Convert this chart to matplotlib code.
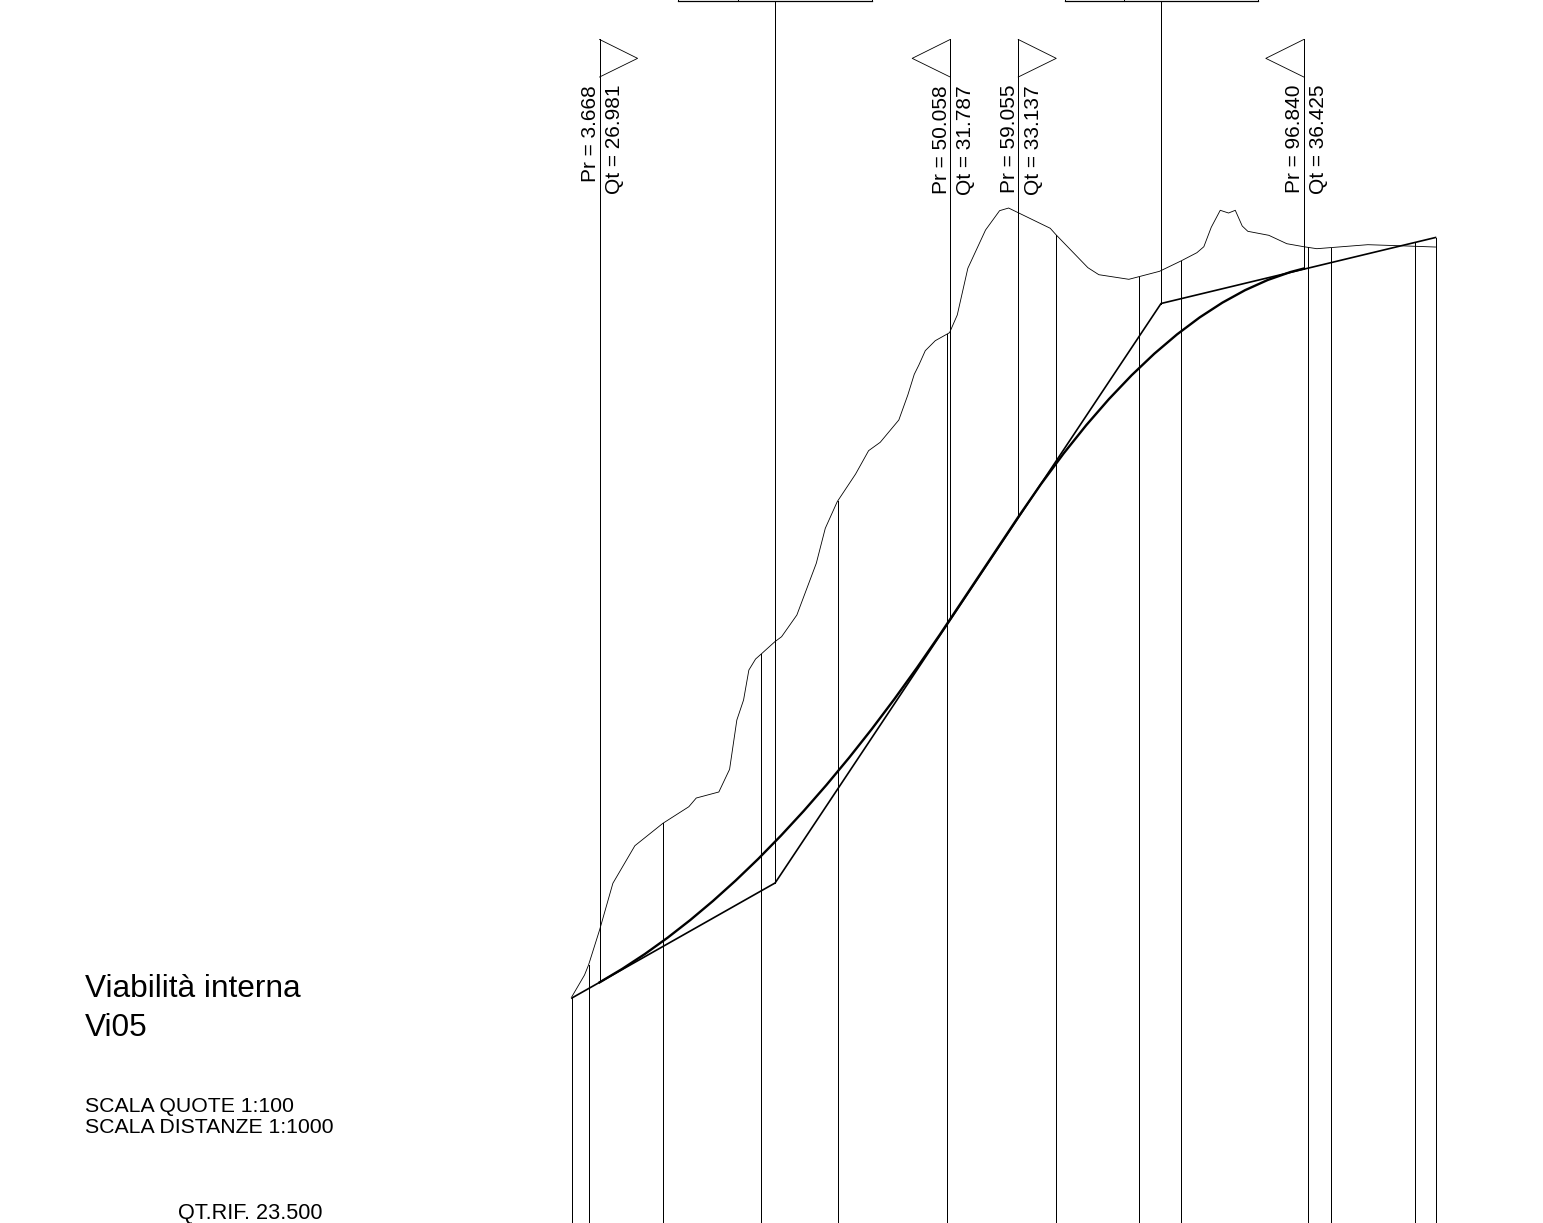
import numpy as np
import matplotlib
matplotlib.use('Agg')
from matplotlib import pyplot as plt

plt.rcParams['font.family'] = ['Liberation Sans', 'DejaVu Sans']

# terrain profile: progressive (m), elevation (m)
terrain_pr = [0.00, 1.68, 2.21, 3.67, 5.43, 8.34, 12.04, 15.48, 16.46, 19.45, 20.87, 21.83,
              22.72, 23.42, 24.31, 25.01, 26.86, 27.75, 29.77, 32.34, 33.53, 35.11, 37.54,
              39.26, 40.80, 43.26, 44.45, 45.30, 45.91, 46.76, 48.08, 49.97, 50.99, 52.39,
              54.73, 56.59, 57.78, 63.29, 64.09, 68.27, 69.72, 73.69, 77.75, 80.57, 82.69,
              83.61, 84.59, 85.78, 86.88, 87.77, 88.69, 89.43, 92.21, 94.59, 96.84, 98.56,
              105.31, 110.39, 114.26]
terrain_qt = [26.791, 27.079, 27.211, 27.674, 28.292, 28.789, 29.085, 29.305, 29.420, 29.500,
              29.800, 30.452, 30.717, 31.113, 31.259, 31.321, 31.488, 31.554, 31.841, 32.525,
              32.988, 33.340, 33.706, 34.015, 34.126, 34.421, 34.752, 35.025, 35.148, 35.338,
              35.470, 35.576, 35.810, 36.428, 36.934, 37.190, 37.225, 36.957, 36.868, 36.436,
              36.343, 36.282, 36.388, 36.524, 36.634, 36.713, 36.970, 37.195, 37.159, 37.195,
              36.987, 36.917, 36.864, 36.753, 36.713, 36.687, 36.740, 36.723, 36.709]

# design grade, straight tangents
tangent_pr = [0.00, 26.89, 77.95, 114.26]
tangent_qt = [26.774, 28.296, 35.962, 36.835]

# design grade with the vertical curves
curve_pr = [3.668, 6.67, 9.67, 12.67, 15.67, 18.67, 21.67, 24.67, 27.67, 30.67, 33.67, 36.67,
            39.67, 42.67, 45.67, 48.67, 50.058, 59.055, 62.06, 65.06, 68.06, 71.06, 74.06,
            77.06, 80.06, 83.06, 86.06, 89.06, 92.06, 95.06, 96.84]
curve_qt = [26.981, 27.160, 27.357, 27.572, 27.806, 28.058, 28.328, 28.616, 28.923, 29.248,
            29.591, 29.952, 30.331, 30.729, 31.145, 31.579, 31.787, 33.137, 33.572, 33.978,
            34.353, 34.698, 35.013, 35.298, 35.553, 35.778, 35.973, 36.138, 36.273, 36.378,
            36.425]

# section stations that run down to the reference line
station_pr = [0.00, 2.21, 12.04, 25.01, 35.15, 49.57, 64.06, 75.01, 80.57, 97.42, 100.41, 111.53, 114.26]

# tangent points with their label and direction
mark_pr = [3.668, 50.058, 59.055, 96.840]
mark_qt = [26.981, 31.787, 33.137, 36.425]
mark_dir = [1, -1, 1, -1]

# boxes cut by the top edge: left, divider, right
box_left = [14.08, 65.18]
box_div = [22.02, 73.08]
box_right = [39.75, 90.76]
vertex_pr = [26.89, 77.95]
vertex_qt = [28.296, 35.962]

W, H = 1543, 1223
fig = plt.figure(figsize=(W / 100, H / 100), dpi=100)
ax = fig.add_axes([0, 0, 1, 1])
ax.set_xlim(-75.65, 128.48)
ax.set_ylim(23.798, 39.977)
ax.axis('off')

ax.plot(terrain_pr, terrain_qt, color='k', lw=0.6)
ax.plot(tangent_pr, tangent_qt, color='k', lw=1.2)
ax.plot(curve_pr, curve_qt, color='k', lw=1.7)

# station lines start at whichever is higher, terrain or grade
for pr in station_pr:
    top = max(np.interp(pr, terrain_pr, terrain_qt), np.interp(pr, tangent_pr, tangent_qt))
    ax.plot([pr, pr], [23.5, top], color='k', lw=0.72)

flag_top, flag_mid, flag_low = 39.455, 39.205, 38.958
flag_len = 5.03
label_y = 38.853
for pr, qt, d in zip(mark_pr, mark_qt, mark_dir):
    ax.plot([pr, pr], [qt, flag_top], color='k', lw=0.72)
    ax.plot([pr, pr + d * flag_len, pr], [flag_top, flag_mid, flag_low], color='k', lw=0.6)
    ax.text(pr - 0.46, label_y, 'Pr = %.3f' % pr, rotation=90, rotation_mode='anchor',
            ha='right', va='baseline', fontsize=15)
    ax.text(pr + 2.71, label_y, 'Qt = %.3f' % qt, rotation=90, rotation_mode='anchor',
            ha='right', va='baseline', fontsize=15)

box_y = 39.96
for i in range(len(box_left)):
    ax.plot([box_left[i], box_right[i]], [box_y, box_y], color='k', lw=0.9)
    for x in [box_left[i], box_div[i], box_right[i]]:
        ax.plot([x, x], [box_y, 40.2], color='k', lw=0.72)
    ax.plot([vertex_pr[i], vertex_pr[i]], [vertex_qt[i], box_y], color='k', lw=0.72)

fig.text(85 / W, 1 - 997 / H, 'Viabilità interna', fontsize=22.8)
fig.text(85 / W, 1 - 1036 / H, 'Vi05', fontsize=22.8)
fig.text(85 / W, 1 - 1111.7 / H, 'SCALA QUOTE 1:100', fontsize=15.3)
fig.text(85 / W, 1 - 1133 / H, 'SCALA DISTANZE 1:1000', fontsize=15.3)
fig.text(178 / W, 1 - 1219.3 / H, 'QT.RIF. 23.500', fontsize=15.6)

fig.savefig('out.png', dpi=100)
